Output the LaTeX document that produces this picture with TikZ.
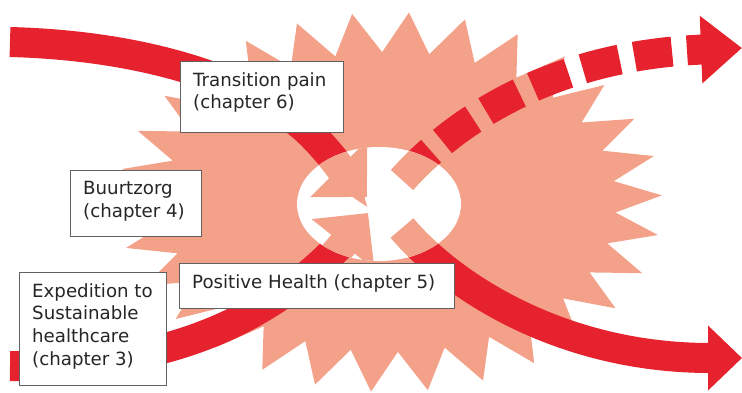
\documentclass[tikz,border=0pt]{standalone}
\usepackage{fontspec}
\setmainfont{DejaVu Sans}
\usetikzlibrary{arrows.meta}
\definecolor{burstred}{RGB}{229,34,45}
\definecolor{burstpink}{RGB}{244,161,138}
\definecolor{boxgrey}{RGB}{96,96,96}

\begin{document}
\begin{tikzpicture}[x=1pt, y=-1pt,
	band/.style={draw=burstred, line width=30pt},
	ghost/.style={draw=burstpink, line width=30pt},
	chapbox/.style={shape=rectangle, draw=boxgrey, fill=white, line width=0.8pt, anchor=north west, inner sep=0pt},
	chaptext/.style={anchor=north west, align=left, inner sep=0pt, text=black!85, font=\fontsize{18.2}{22.6}\selectfont, xshift=13pt, yshift=-11.3pt}]
	\useasboundingbox (0,0) rectangle (742,392);
	% Star, bands and the hole:
	\fill[burstpink] ({390+272*cos(2)}, {202-190*sin(2)})
		\foreach \a in {0,12,...,348} { -- ({390+226*cos(\a+8)}, {202-150*sin(\a+8)}) -- ({390+272*cos(\a+14)}, {202-190*sin(\a+14)}) } -- cycle;
	\coordinate (hub) at (379,204);
	\coordinate (inA) at (10,42);
	\coordinate (bendA) at (312,135);
	\coordinate (tipA) at (367,197);
	\coordinate (inC) at (10,366);
	\coordinate (tipC) at (368,213);
	\coordinate (outB) at (402,228);
	\coordinate (endB) at (742,358);
	\coordinate (outD) at (402,180);
	\coordinate (endD) at (742,48);
	\draw[band] (inA) .. controls (160,46) and (265,88) .. (bendA) .. controls (330,153) and (349,179) .. (tipA);
	\draw[band] (inC) .. controls (200,368) and (300,298) .. (tipC);
	\draw[band, -{Triangle[length=34pt, width=63pt]}] (outB) .. controls (450,285) and (560,358) .. (endB);
	\draw[band, dash pattern=on 38pt off 15pt, dash phase=50pt, -{Triangle[length=41pt, width=65pt]}] (outD) .. controls (460,115) and (560,55) .. (endD);
	\fill[white] (hub) ellipse [x radius=82, y radius=57];
	\begin{scope}
		\clip (hub) ellipse [x radius=82, y radius=57];
		\draw[ghost, -{Triangle[length=40pt, width=78pt]}] (bendA) .. controls (330,153) and (349,179) .. (tipA);
		\draw[ghost, -{Triangle[length=40pt, width=78pt]}] (inC) .. controls (200,368) and (300,298) .. (tipC);
		\draw[ghost] (outB) .. controls (450,285) and (560,358) .. (endB);
		\draw[ghost] (outD) .. controls (460,115) and (560,55) .. (endD);
	\end{scope}
	% Chapter boxes:
	\node[chapbox, minimum width=163pt, minimum height=71pt] (pain) at (180,61) {};
	\node[chaptext] at (pain.north west) {Transition pain\\(chapter 6)};
	\node[chapbox, minimum width=131pt, minimum height=66pt] (buurt) at (70,170) {};
	\node[chaptext] at (buurt.north west) {Buurtzorg\\(chapter 4)};
	\node[chapbox, minimum width=275pt, minimum height=45pt] (health) at (179,263) {};
	\node[chaptext] at (health.north west) {Positive Health (chapter 5)};
	\node[chapbox, minimum width=147pt, minimum height=113pt] (expedition) at (19,272) {};
	\node[chaptext] at (expedition.north west) {Expedition to\\Sustainable\\healthcare\\(chapter 3)};
\end{tikzpicture}
\end{document}
